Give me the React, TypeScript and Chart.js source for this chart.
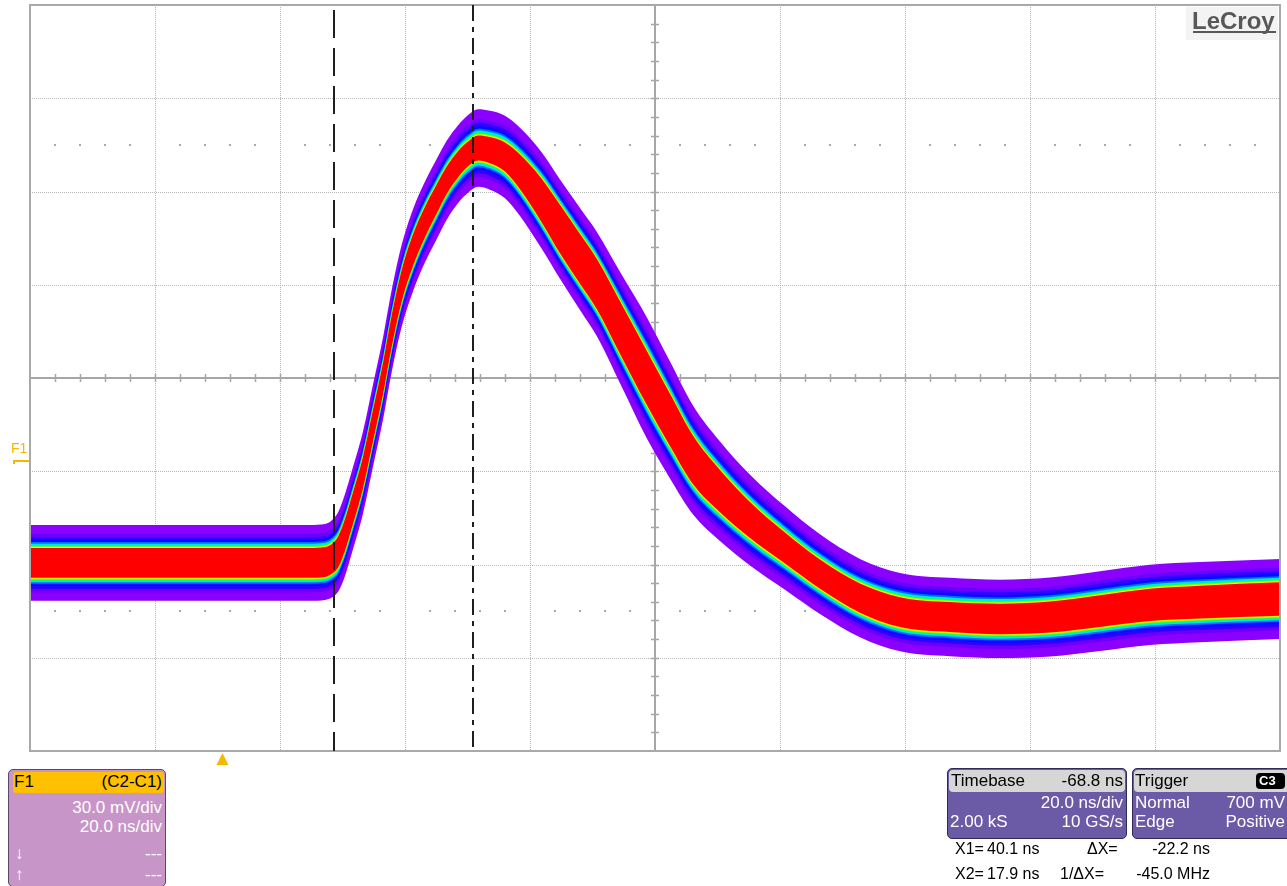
import React, { useEffect, useRef } from 'react';
import { Chart, registerables } from 'chart.js';

Chart.register(...registerables);

const W = 1287;
const H = 886;

// Graticule / acquisition settings
const NS_PER_DIV = 20;
const MV_PER_DIV = 30;
const H_DIVS = 10;
const V_DIVS = 8;
const CENTRE_NS = 69.2; // time at the centre graticule line (trigger = 0 ns)
const CENTRE_MV = 26.7; // F1 level at the centre graticule line
const TRIGGER_NS = 0;
const CURSOR_X1_NS = 40.1;
const CURSOR_X2_NS = 17.9;

const X_MIN = CENTRE_NS - (H_DIVS / 2) * NS_PER_DIV;
const X_MAX = CENTRE_NS + (H_DIVS / 2) * NS_PER_DIV;
const Y_MIN = CENTRE_MV - (V_DIVS / 2) * MV_PER_DIV;
const Y_MAX = CENTRE_MV + (V_DIVS / 2) * MV_PER_DIV;

// F1 = C2 - C1 persistence trace: sample times, band centre and envelope half-widths
const timeNs = [
  -30.8, -22.8, -14.8, -6.8, 1.2, 9.2, 14.0, 16.4, 17.5, 18.5, 19.6, 20.7, 22.5, 24.1, 25.7, 27.1,
  28.7, 30.5, 32.4, 34.2, 35.9, 37.7, 39.3, 40.9, 42.8, 45.2, 47.6, 51.0, 54.0, 57.2, 59.9, 63.9,
  67.9, 71.6, 75.3, 79.6, 84.4, 90.0, 95.6, 102.0, 108.4, 116.4, 124.4, 132.4, 140.4, 148.4, 156.4, 169.2,
];
const centreMv = [
  -32.8, -32.8, -32.8, -32.8, -32.8, -32.8, -32.8, -32.5, -31.5, -29.3, -23.8, -16.4, -3.5, 11.6, 26.7, 42.1,
  56.6, 67.9, 76.9, 84.0, 90.4, 95.5, 98.8, 100.7, 100.0, 97.8, 93.0, 84.0, 74.6, 65.0, 56.9, 41.8,
  26.7, 13.2, 0.3, -9.7, -19.0, -28.0, -36.4, -44.1, -48.6, -50.2, -50.8, -50.2, -48.3, -46.3, -45.4, -44.4,
];
// half-width of the dense (red) core
const coreHalfMv = [
  4.8, 4.8, 4.8, 4.8, 4.8, 4.8, 4.8, 4.8, 4.8, 5.0, 5.1, 5.1, 5.1, 5.1, 5.1, 5.1,
  5.1, 5.1, 4.9, 4.7, 4.4, 4.2, 4.0, 4.0, 4.2, 4.7, 5.6, 7.0, 7.8, 8.0, 8.1, 8.5,
  8.7, 8.4, 7.8, 6.8, 5.8, 5.0, 4.7, 4.7, 4.8, 4.8, 4.9, 5.0, 5.1, 5.2, 5.3, 5.4,
];
// half-width of the outermost (violet) halo
const haloHalfMv = [
  12.2, 12.2, 12.2, 12.2, 12.2, 12.2, 12.2, 12.2, 12.4, 12.8, 13.2, 13.2, 13.2, 13.2, 13.2, 13.2,
  13.2, 13.2, 13.0, 12.9, 12.7, 12.5, 12.5, 12.5, 12.7, 13.3, 14.2, 15.5, 16.0, 16.4, 16.8, 18.0,
  19.5, 18.8, 17.5, 16.0, 14.6, 13.4, 12.8, 12.6, 12.6, 12.6, 12.6, 12.7, 12.8, 12.9, 12.9, 12.9,
];

// Persistence colour map, from the rare outer hits (violet) to the dense core (red)
const persistenceLayers = [
  { frac: 1.0, colour: '#8b00ff' },
  { frac: 0.62, colour: '#6a00ff' },
  { frac: 0.48, colour: '#3300ff' },
  { frac: 0.36, colour: '#0010ff' },
  { frac: 0.26, colour: '#0070ff' },
  { frac: 0.19, colour: '#00e0ff' },
  { frac: 0.13, colour: '#00ff70' },
  { frac: 0.08, colour: '#80ff00' },
  { frac: 0.04, colour: '#ffee00' },
  { frac: 0.0, colour: '#ff0000' },
];

const FONT = '"Liberation Sans", Arial, Helvetica, sans-serif';
const ORANGE = '#f5b800';

function buildDatasets() {
  const sets: any[] = [];
  persistenceLayers.forEach((layer, k) => {
    const order = persistenceLayers.length - k;
    const half = timeNs.map((_, i) => coreHalfMv[i] + layer.frac * (haloHalfMv[i] - coreHalfMv[i]));
    const common = {
      borderWidth: 0,
      pointRadius: 0,
      cubicInterpolationMode: 'monotone',
      order,
    };
    sets.push({
      ...common,
      data: timeNs.map((t, i) => ({ x: t, y: centreMv[i] + half[i] })),
      fill: '+1',
      backgroundColor: layer.colour,
    });
    sets.push({
      ...common,
      data: timeNs.map((t, i) => ({ x: t, y: centreMv[i] - half[i] })),
      fill: false,
    });
  });
  return sets;
}

const graticulePlugin = {
  id: 'graticule',
  beforeDatasetsDraw(chart: any) {
    const { ctx, chartArea: a } = chart;
    const xs = chart.scales.x;
    const ys = chart.scales.y;
    ctx.save();
    // dotted division lines
    ctx.strokeStyle = '#b8b8b8';
    ctx.lineWidth = 1;
    ctx.setLineDash([1, 1]);
    for (let i = 1; i < H_DIVS; i++) {
      if (i === H_DIVS / 2) continue;
      const px = Math.round(xs.getPixelForValue(X_MIN + i * NS_PER_DIV)) + 0.5;
      ctx.beginPath();
      ctx.moveTo(px, a.top);
      ctx.lineTo(px, a.bottom);
      ctx.stroke();
    }
    for (let j = 1; j < V_DIVS; j++) {
      if (j === V_DIVS / 2) continue;
      const py = Math.round(ys.getPixelForValue(Y_MIN + j * MV_PER_DIV)) + 0.5;
      ctx.beginPath();
      ctx.moveTo(a.left, py);
      ctx.lineTo(a.right, py);
      ctx.stroke();
    }
    ctx.setLineDash([]);

    // rows of fifth-division dots at +/- 2.5 div
    ctx.fillStyle = '#a8a8a8';
    [CENTRE_MV + 2.5 * MV_PER_DIV, CENTRE_MV - 2.5 * MV_PER_DIV].forEach((v) => {
      const py = Math.round(ys.getPixelForValue(v));
      for (let k = 1; k < H_DIVS * 5; k++) {
        if (k % 5 === 0) continue;
        const px = Math.round(xs.getPixelForValue(X_MIN + (k * NS_PER_DIV) / 5));
        ctx.fillRect(px - 1, py - 1, 2, 2);
      }
    });

    // centre axes with fifth-division ticks
    const cx = Math.round(xs.getPixelForValue(CENTRE_NS));
    const cy = Math.round(ys.getPixelForValue(CENTRE_MV));
    ctx.strokeStyle = '#a6a6a6';
    ctx.lineWidth = 2;
    ctx.beginPath();
    ctx.moveTo(a.left, cy);
    ctx.lineTo(a.right, cy);
    ctx.moveTo(cx, a.top);
    ctx.lineTo(cx, a.bottom);
    ctx.stroke();
    ctx.lineWidth = 1.5;
    ctx.beginPath();
    for (let k = 1; k < H_DIVS * 5; k++) {
      const px = Math.round(xs.getPixelForValue(X_MIN + (k * NS_PER_DIV) / 5)) + 0.5;
      ctx.moveTo(px, cy - 4);
      ctx.lineTo(px, cy + 4);
    }
    for (let k = 1; k < V_DIVS * 5; k++) {
      const py = Math.round(ys.getPixelForValue(Y_MIN + (k * MV_PER_DIV) / 5)) + 0.5;
      ctx.moveTo(cx - 4, py);
      ctx.lineTo(cx + 4, py);
    }
    ctx.stroke();
    ctx.restore();
  },
  afterDatasetsDraw(chart: any) {
    const { ctx, chartArea: a } = chart;
    const xs = chart.scales.x;
    const ys = chart.scales.y;
    ctx.save();

    // screen border
    ctx.strokeStyle = '#a9a9a9';
    ctx.lineWidth = 2;
    ctx.strokeRect(a.left, a.top, a.right - a.left, a.bottom - a.top);

    // time cursors
    ctx.strokeStyle = '#1e1e1e';
    ctx.lineWidth = 2;
    const x2 = Math.round(xs.getPixelForValue(CURSOR_X2_NS));
    ctx.setLineDash([28, 10]);
    ctx.lineDashOffset = -5;
    ctx.beginPath();
    ctx.moveTo(x2, a.top);
    ctx.lineTo(x2, a.bottom);
    ctx.stroke();
    const x1 = Math.round(xs.getPixelForValue(CURSOR_X1_NS));
    ctx.setLineDash([16, 6, 5, 6]);
    ctx.lineDashOffset = 0;
    ctx.beginPath();
    ctx.moveTo(x1, a.top);
    ctx.lineTo(x1, a.bottom);
    ctx.stroke();
    ctx.setLineDash([]);

    // trigger position marker
    const tx = xs.getPixelForValue(TRIGGER_NS);
    ctx.fillStyle = ORANGE;
    ctx.beginPath();
    ctx.moveTo(tx, a.bottom + 2);
    ctx.lineTo(tx + 6, a.bottom + 14);
    ctx.lineTo(tx - 6, a.bottom + 14);
    ctx.closePath();
    ctx.fill();

    // F1 ground level marker
    const gy = Math.round(ys.getPixelForValue(0));
    ctx.fillStyle = ORANGE;
    ctx.font = `14px ${FONT}`;
    ctx.textBaseline = 'alphabetic';
    ctx.textAlign = 'left';
    ctx.fillText('F1', 11, gy - 8);
    ctx.fillRect(13, gy - 1, 16, 2);
    ctx.fillRect(13, gy - 1, 2, 4);
    ctx.restore();
  },
};

type TxtProps = {
  x?: number;
  right?: number;
  y: number;
  size?: number;
  color?: string;
  bold?: boolean;
  children: React.ReactNode;
};

function Txt({ x, right, y, size = 17, color = '#fff', bold, children }: TxtProps) {
  const lh = Math.round(size * 1.2);
  const style: React.CSSProperties = {
    position: 'absolute',
    top: y - lh / 2,
    height: lh,
    lineHeight: `${lh}px`,
    fontSize: size,
    fontFamily: FONT,
    fontWeight: bold ? 'bold' : 'normal',
    color,
    whiteSpace: 'pre',
  };
  if (right !== undefined) style.right = W - right;
  else style.left = x;
  return <div style={style}>{children}</div>;
}

function Box({ l, t, w, h, bg, border, radius = 4 }: { l: number; t: number; w: number; h: number; bg: string; border?: string; radius?: number }) {
  return (
    <div
      style={{
        position: 'absolute',
        left: l,
        top: t,
        width: w,
        height: h,
        background: bg,
        border: border ? `1px solid ${border}` : 'none',
        borderRadius: radius,
        boxSizing: 'border-box',
      }}
    />
  );
}

export default function App() {
  const canvasRef = useRef<HTMLCanvasElement | null>(null);

  useEffect(() => {
    const canvas = canvasRef.current;
    if (!canvas) return;
    const chart = new Chart(canvas, {
      type: 'line',
      data: { datasets: buildDatasets() },
      options: {
        animation: false,
        responsive: false,
        maintainAspectRatio: false,
        devicePixelRatio: 1,
        events: [],
        layout: { padding: { left: 30, top: 5, right: W - 1280, bottom: H - 751 } },
        plugins: { legend: { display: false }, tooltip: { enabled: false } },
        scales: {
          x: { type: 'linear', min: X_MIN, max: X_MAX, display: false },
          y: { type: 'linear', min: Y_MIN, max: Y_MAX, display: false },
        },
      } as any,
      plugins: [graticulePlugin],
    });
    return () => chart.destroy();
  }, []);

  return (
    <div style={{ position: 'absolute', left: 0, top: 0, width: W, height: H, background: '#fff', overflow: 'hidden' }}>
      <canvas ref={canvasRef} width={W} height={H} style={{ position: 'absolute', left: 0, top: 0, width: W, height: H }} />

      {/* logo */}
      <Box l={1186} t={7} w={92} h={33} bg="#f3f3f3" radius={0} />
      <Txt x={1192} y={20} size={24} bold color="#585858">LeCroy</Txt>
      <div style={{ position: 'absolute', left: 1193, top: 31, width: 83, height: 2, background: '#585858' }} />

      {/* F1 trace descriptor */}
      <Box l={8} t={769} w={158} h={118} bg="#c795c7" border="#5a4868" radius={5} />
      <Box l={13} t={772} w={151} h={21} bg="#ffc000" radius={3} />
      <Txt x={14} y={782} color="#000">F1</Txt>
      <Txt right={162} y={782} color="#000">(C2-C1)</Txt>
      <Txt right={162} y={808}>30.0 mV/div</Txt>
      <Txt right={162} y={827}>20.0 ns/div</Txt>
      <Txt x={15} y={854}>↓</Txt>
      <Txt right={162} y={854}>---</Txt>
      <Txt x={15} y={875}>↑</Txt>
      <Txt right={162} y={875}>---</Txt>

      {/* timebase descriptor */}
      <Box l={947} t={768} w={180} h={71} bg="#6b5ba7" border="#2f2a58" radius={5} />
      <Box l={949} t={770} w={176} h={22} bg="#d6d6d6" radius={4} />
      <Txt x={951} y={781} color="#000">Timebase</Txt>
      <Txt right={1123} y={781} color="#000">-68.8 ns</Txt>
      <Txt right={1123} y={803}>20.0 ns/div</Txt>
      <Txt x={950} y={822}>2.00 kS</Txt>
      <Txt right={1123} y={822}>10 GS/s</Txt>

      {/* trigger descriptor */}
      <Box l={1132} t={768} w={160} h={71} bg="#6b5ba7" border="#2f2a58" radius={5} />
      <Box l={1134} t={770} w={160} h={22} bg="#d6d6d6" radius={4} />
      <Txt x={1135} y={781} color="#000">Trigger</Txt>
      <Box l={1256} t={773} w={29} h={16} bg="#000" radius={4} />
      <Txt x={1259} y={781} size={13} bold color="#fff">C3</Txt>
      <Txt x={1135} y={803}>Normal</Txt>
      <Txt right={1285} y={803}>700 mV</Txt>
      <Txt x={1135} y={822}>Edge</Txt>
      <Txt right={1285} y={822}>Positive</Txt>

      {/* cursor readouts */}
      <Txt x={955} y={848} size={16} color="#000">X1=</Txt>
      <Txt x={987} y={848} size={16} color="#000">40.1 ns</Txt>
      <Txt x={1087} y={848} size={16} color="#000">ΔX=</Txt>
      <Txt right={1210} y={848} size={16} color="#000">-22.2 ns</Txt>
      <Txt x={955} y={873} size={16} color="#000">X2=</Txt>
      <Txt x={987} y={873} size={16} color="#000">17.9 ns</Txt>
      <Txt x={1060} y={873} size={16} color="#000">1/ΔX=</Txt>
      <Txt right={1210} y={873} size={16} color="#000">-45.0 MHz</Txt>
    </div>
  );
}
